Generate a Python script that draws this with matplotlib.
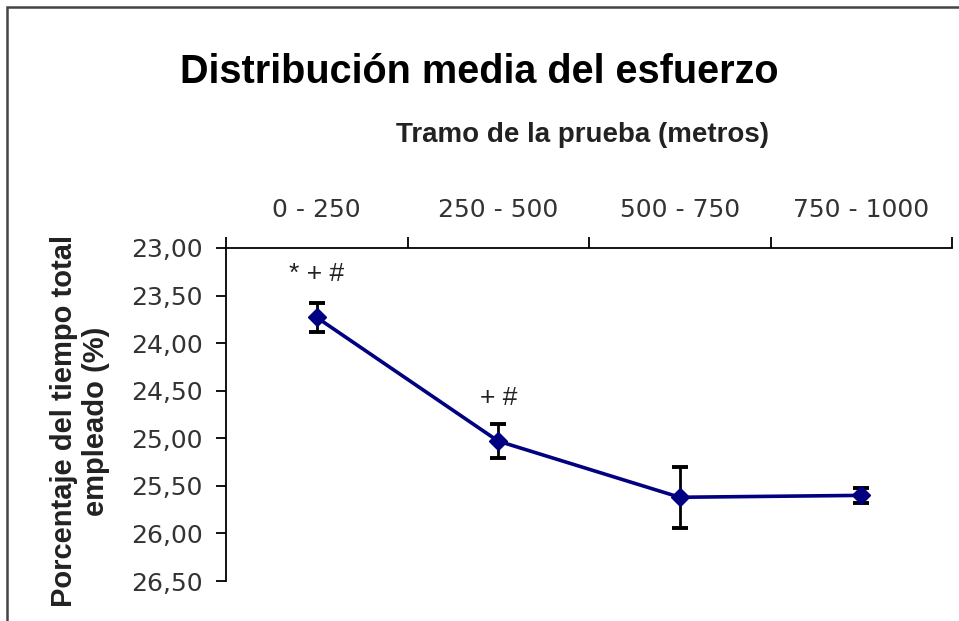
import numpy as np
import matplotlib.pyplot as plt
from matplotlib.patches import Rectangle

# data
tramos = ["0 - 250", "250 - 500", "500 - 750", "750 - 1000"]
porcentaje = [23.73, 25.03, 25.62, 25.60]
error = [0.15, 0.18, 0.32, 0.08]
marcas = ["* + #", "+ #", "", ""]
y_ticks = [23.0, 23.5, 24.0, 24.5, 25.0, 25.5, 26.0, 26.5]

plt.rcParams["font.family"] = ["Liberation Sans", "DejaVu Sans"]

fig = plt.figure(figsize=(9.59, 6.21), dpi=100)
ax = fig.add_axes([226 / 959, 1 - 581 / 621, 726 / 959, 333 / 621])

x = np.arange(len(tramos))
ax.errorbar(x, porcentaje, yerr=error, fmt="none", ecolor="black",
            elinewidth=2, capsize=6, capthick=2.8, zorder=2)
ax.plot(x, porcentaje, color="#000080", lw=2.6, marker="D", ms=9,
        markerfacecolor="#000080", markeredgecolor="#000080", zorder=3)

for xi, yi, m in zip(x, porcentaje, marcas):
    if m:
        ax.annotate(m, (xi, yi), xytext=(0, 31), textcoords="offset points",
                    ha="center", va="center", fontsize=19, color="#222222")

ax.set_xlim(-0.5, len(tramos) - 0.5)
ax.set_ylim(26.5, 23.0)

# x axis on top: tick marks between categories, labels at centres
ax.xaxis.tick_top()
ax.set_xticks(np.arange(len(tramos) + 1) - 0.5)
ax.set_xticklabels([])
ax.set_xticks(x, minor=True)
ax.set_xticklabels(tramos, minor=True, fontsize=18, color="#333333",
                   family="DejaVu Sans")
ax.tick_params(axis="x", which="major", direction="out", length=8, width=1.3)
ax.tick_params(axis="x", which="minor", length=0, pad=19)

ax.set_yticks(y_ticks)
ax.set_yticklabels([f"{v:.2f}".replace(".", ",") for v in y_ticks],
                   fontsize=18, color="#333333", family="DejaVu Sans")
ax.tick_params(axis="y", direction="out", length=7, width=1.3, pad=10)

for s in ["right", "bottom"]:
    ax.spines[s].set_visible(False)
for s in ["left", "top"]:
    ax.spines[s].set_linewidth(1.3)

fig.text(0.5, 1 - 72 / 621, "Distribución media del esfuerzo",
         ha="center", va="center", fontsize=28.5, fontweight="bold")
fig.text(582 / 959, 1 - 135 / 621, "Tramo de la prueba (metros)",
         ha="center", va="center", fontsize=20, fontweight="bold", color="#222222")
fig.text(80 / 959, 1 - 421 / 621, "Porcentaje del tiempo total\nempleado (%)",
         ha="center", va="center", rotation=90, fontsize=21,
         fontweight="bold", color="#222222", linespacing=1.2)

# outer frame (right and bottom edges fall outside the image)
fig.patches.append(Rectangle((7 / 959, -0.1), 1.2, 1 - 7 / 621 + 0.1,
                             transform=fig.transFigure, fill=False,
                             edgecolor="#444444", lw=1.8))

fig.savefig("out.png", dpi=100)
